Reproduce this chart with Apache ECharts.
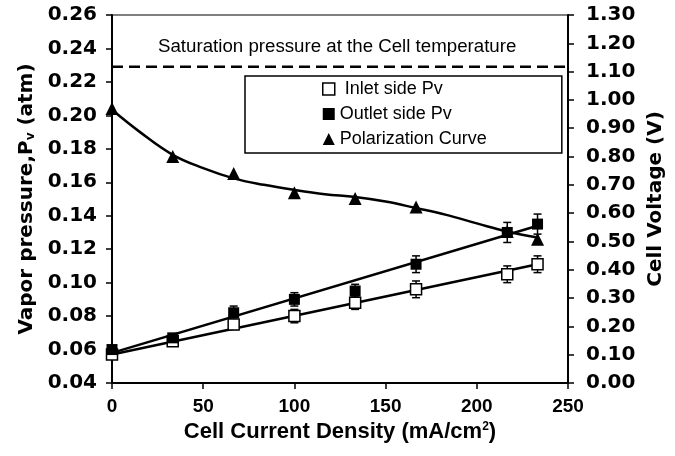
<!DOCTYPE html>
<html>
<head>
<meta charset="utf-8">
<script src="https://cdn.jsdelivr.net/npm/echarts@6/dist/echarts.min.js"></script>
<style>html,body{margin:0;padding:0;background:#fff}#c{width:675px;height:456px}</style>
</head>
<body>
<div id="c"></div>
<script>
// ---- data ----
const currentDensity = [0, 33.3, 66.7, 100, 133.3, 166.7, 216.7, 233.3];
const inletPv  = [0.057, 0.065, 0.075, 0.080, 0.088, 0.096, 0.105, 0.111];
const outletPv = [0.060, 0.067, 0.082, 0.090, 0.095, 0.111, 0.130, 0.135];
const inletErr  = [0.002, 0.002, 0.003, 0.004, 0.004, 0.005, 0.005, 0.005];
const outletErr = [0.002, 0.002, 0.004, 0.004, 0.004, 0.005, 0.006, 0.006];
const cellVoltage = [0.970, 0.800, 0.740, 0.672, 0.652, 0.622, 0.535, 0.508];

const fitX = [0, 233.3];
const inletFit  = [0.057, 0.111];
const outletFit = [0.058, 0.134];

const curveX = [0, 15, 33.3, 50, 66.7, 83.3, 100, 116.7, 133.3, 150, 166.7, 183.3, 200, 216.7, 233.3];
const curveV = [0.965, 0.888, 0.806, 0.759, 0.723, 0.700, 0.682, 0.667, 0.657, 0.641, 0.618, 0.594, 0.564, 0.535, 0.514];

const saturationX = [0, 250];
const saturationPv = 0.229;

const xTicks = [0, 50, 100, 150, 200, 250];
const leftTicks = [0.04, 0.26, 0.02];   // min, max, step
const rightTicks = [0, 1.3, 0.1];

const seriesNames = ['Inlet side Pv', 'Outlet side Pv', 'Polarization Curve'];
const satLabel = 'Saturation pressure at the Cell temperature';

// ---- helpers ----
const pair = (xs, ys) => xs.map((x, i) => [x, ys[i]]);
const errData = (xs, ys, es) => xs.map((x, i) => [x, ys[i] - es[i], ys[i] + es[i]]);
function errRender(params, api) {
  const x = api.value(0);
  const lo = api.coord([x, api.value(1)]);
  const hi = api.coord([x, api.value(2)]);
  const w = 4;
  const st = { stroke: '#000', lineWidth: 1.5 };
  return {
    type: 'group',
    children: [
      { type: 'line', shape: { x1: lo[0], y1: lo[1], x2: hi[0], y2: hi[1] }, style: st },
      { type: 'line', shape: { x1: lo[0] - w, y1: lo[1], x2: lo[0] + w, y2: lo[1] }, style: st },
      { type: 'line', shape: { x1: hi[0] - w, y1: hi[1], x2: hi[0] + w, y2: hi[1] }, style: st }
    ]
  };
}

const FONT = 'Liberation Sans';
const axisLab = { color: '#000', fontFamily: 'DejaVu Sans', fontWeight: 'bold', fontSize: 20 };

const chart = echarts.init(document.getElementById('c'), null, { renderer: 'canvas' });
chart.setOption({
  animation: false,
  backgroundColor: '#fff',
  grid: { left: 112, right: 107, top: 15, bottom: 73, show: true, borderColor: '#000', borderWidth: 1.2 },
  legend: {
    data: [
      { name: seriesNames[0], icon: 'rect', itemStyle: { color: '#fff', borderColor: '#000', borderWidth: 1.5 } },
      { name: seriesNames[1], icon: 'rect' },
      { name: seriesNames[2], icon: 'triangle' }
    ],
    formatter: n => (n === seriesNames[0] ? ' ' + n : n),
    orient: 'vertical', left: 245, top: 76,
    padding: [4, 75, 5, 77],
    itemGap: 7, itemWidth: 12, itemHeight: 12,
    borderColor: '#000', borderWidth: 1.5,
    textStyle: { fontFamily: FONT, fontSize: 18, color: '#000' },
    selectedMode: false
  },
  graphic: [{
    type: 'text', left: 158, top: 37,
    style: { text: satLabel, fontFamily: FONT, fontSize: 18.7, fill: '#000' }
  }],
  xAxis: {
    type: 'value', min: xTicks[0], max: xTicks[xTicks.length - 1], interval: 50,
    axisLine: { lineStyle: { color: '#000', width: 2 } },
    axisTick: { inside: false, length: 6, lineStyle: { color: '#000', width: 1.5 } },
    axisLabel: { color: '#000', fontFamily: FONT, fontWeight: 'bold', fontSize: 19, margin: 14 },
    splitLine: { show: false },
    name: '{a|Cell Current Density (mA/cm}{s|2}{a|)}',
    nameLocation: 'middle', nameGap: 36,
    nameTextStyle: {
      rich: {
        a: { fontFamily: FONT, fontWeight: 'bold', fontSize: 22, color: '#000' },
        s: { fontFamily: FONT, fontWeight: 'bold', fontSize: 12, color: '#000', verticalAlign: 'top', padding: [0, 0, 10, 0] }
      }
    }
  },
  yAxis: [{
    type: 'value', min: leftTicks[0], max: leftTicks[1], interval: leftTicks[2],
    axisLine: { show: true, lineStyle: { color: '#000', width: 2 } },
    axisTick: { show: true, length: 6, lineStyle: { color: '#000', width: 1.5 } },
    axisLabel: Object.assign({ margin: 15, formatter: v => v.toFixed(2) }, axisLab),
    splitLine: { show: false },
    name: '{a|Vapor pressure,P}{s|v}{a| (atm)}',
    nameLocation: 'middle', nameRotate: 90, nameGap: 73,
    nameTextStyle: {
      rich: {
        a: { fontFamily: 'DejaVu Sans', fontWeight: 'bold', fontSize: 20, color: '#000' },
        s: { fontFamily: 'DejaVu Sans', fontWeight: 'bold', fontSize: 12, color: '#000', verticalAlign: 'bottom', padding: [8, 0, 0, 0] }
      }
    }
  }, {
    type: 'value', position: 'right', min: rightTicks[0], max: rightTicks[1], interval: rightTicks[2],
    axisLine: { show: true, lineStyle: { color: '#000', width: 2 } },
    axisTick: { show: true, length: 6, lineStyle: { color: '#000', width: 1.5 } },
    axisLabel: Object.assign({ margin: 18, formatter: v => v.toFixed(2) }, axisLab),
    splitLine: { show: false },
    name: 'Cell Voltage (V)',
    nameLocation: 'middle', nameRotate: 90, nameGap: 73,
    nameTextStyle: { fontFamily: 'DejaVu Sans', fontWeight: 'bold', fontSize: 20, color: '#000' }
  }],
  series: [
    { name: 'sat', type: 'line', data: pair(saturationX, [saturationPv, saturationPv]), symbol: 'none',
      lineStyle: { color: '#000', width: 2.5, type: [11, 6] }, silent: true, z: 1 },
    { name: 'inletFit', type: 'line', data: pair(fitX, inletFit), symbol: 'none',
      lineStyle: { color: '#000', width: 2.5 }, z: 2 },
    { name: 'outletFit', type: 'line', data: pair(fitX, outletFit), symbol: 'none',
      lineStyle: { color: '#000', width: 2.5 }, z: 2 },
    { name: 'curveFit', type: 'line', yAxisIndex: 1, data: pair(curveX, curveV), symbol: 'none', smooth: 0.4,
      lineStyle: { color: '#000', width: 2.5 }, z: 2 },
    { name: 'inletErr', type: 'custom', data: errData(currentDensity, inletPv, inletErr), renderItem: errRender, z: 3 },
    { name: 'outletErr', type: 'custom', data: errData(currentDensity, outletPv, outletErr), renderItem: errRender, z: 3 },
    { name: seriesNames[0], type: 'scatter', data: pair(currentDensity, inletPv), symbol: 'rect', symbolSize: 11,
      itemStyle: { color: '#fff', borderColor: '#000', borderWidth: 1.5, opacity: 1 }, z: 4 },
    { name: seriesNames[1], type: 'scatter', data: pair(currentDensity, outletPv), symbol: 'rect', symbolSize: 11,
      itemStyle: { color: '#000', opacity: 1 }, z: 5 },
    { name: seriesNames[2], type: 'scatter', yAxisIndex: 1, data: pair(currentDensity, cellVoltage), symbol: 'triangle', symbolSize: 13,
      itemStyle: { color: '#000', opacity: 1 }, z: 5 }
  ]
});
</script>
</body>
</html>
